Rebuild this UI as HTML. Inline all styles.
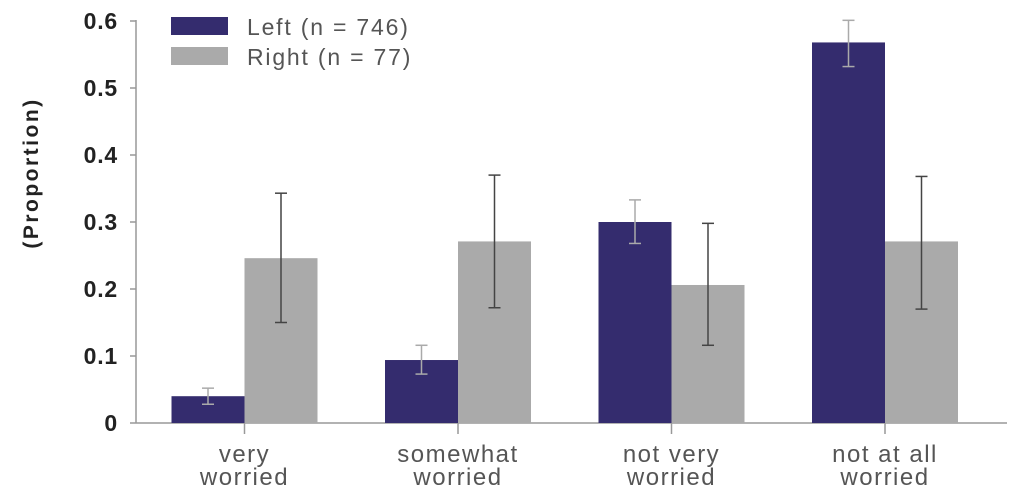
<!DOCTYPE html>
<html><head><meta charset="utf-8"><style>
html,body{margin:0;padding:0;background:#fff;}
svg{display:block;font-family:"Liberation Sans",sans-serif;}
</style></head><body>
<svg id="chart" width="1024" height="504"></svg>
<script>
const categories = [["very","worried"],["somewhat","worried"],["not very","worried"],["not at all","worried"]];
const leftValues = [0.040, 0.094, 0.300, 0.568];
const leftLow = [0.028, 0.073, 0.268, 0.532];
const leftHigh = [0.052, 0.116, 0.333, 0.601];
const rightValues = [0.246, 0.271, 0.206, 0.271];
const rightLow = [0.150, 0.172, 0.116, 0.170];
const rightHigh = [0.343, 0.370, 0.298, 0.368];
const yTicks = [0, 0.1, 0.2, 0.3, 0.4, 0.5, 0.6];
const yTickLabels = ["0","0.1","0.2","0.3","0.4","0.5","0.6"];
const legendLabels = ["Left (n = 746)","Right (n = 77)"];

const NS="http://www.w3.org/2000/svg";
const svg=document.getElementById('chart');
const x0=136, x1=1007, y0=423, yTop=21, vMax=0.6;
const y=v=>y0-(v/vMax)*(y0-yTop);
const groupW=213.5, firstCenter=244.5, barW=73;
const cx=i=>firstCenter+i*groupW;
function mk(tag,attrs,parent){const e=document.createElementNS(NS,tag);for(const k in attrs)e.setAttribute(k,attrs[k]);(parent||svg).appendChild(e);return e;}

let a=mk('line',{x1:x0,y1:y(0.6)-1,x2:x0,y2:y0,stroke:'#999','stroke-width':1.5});


a=mk('line',{x1:x0,y1:y0,x2:x1,y2:y0,stroke:'#999','stroke-width':1.5});



yTicks.forEach((t,i)=>{
  const l=mk('line',{x1:x0-6,y1:y(t),x2:x0,y2:y(t),stroke:'#999','stroke-width':1.5});
  
  
  const tx=mk('text',{x:x0-18,y:y(t)+8,'text-anchor':'end','font-size':23,'font-weight':'bold','letter-spacing':0.8,fill:'#222'});
  tx.textContent=yTickLabels[i];
  
  
});
const ty=173;
const yt=mk('text',{x:38,y:ty,'text-anchor':'middle','font-size':21,'font-weight':'bold','letter-spacing':2.5,fill:'#222',transform:'rotate(-90 38 '+ty+')'});
yt.textContent='(Proportion)';



categories.forEach((c,i)=>{
  const bl=mk('rect',{x:cx(i)-barW,y:y(leftValues[i]),width:barW,height:y0-y(leftValues[i]),fill:'#342c6e'});
  
  
  const br=mk('rect',{x:cx(i),y:y(rightValues[i]),width:barW,height:y0-y(rightValues[i]),fill:'#aaaaaa'});
  
  
  [[cx(i)-barW/2,leftLow[i],leftHigh[i],'#aaa'],[cx(i)+barW/2,rightLow[i],rightHigh[i],'#444']].forEach(([ex,lo,hi,col])=>{
    const g=mk('g',{stroke:col,'stroke-width':1.5});
    
    
    mk('line',{x1:ex,y1:y(lo),x2:ex,y2:y(hi)},g);
    mk('line',{x1:ex-6,y1:y(lo),x2:ex+6,y2:y(lo)},g);
    mk('line',{x1:ex-6,y1:y(hi),x2:ex+6,y2:y(hi)},g);
  });
  const tk=mk('line',{x1:cx(i),y1:y0,x2:cx(i),y2:y0+11,stroke:'#999','stroke-width':1.5});
  
  
  c.forEach((s,j)=>{
    const t=mk('text',{x:cx(i),y:462+j*23,'text-anchor':'middle','font-size':24,'letter-spacing':1.5,fill:'#555'});
    t.textContent=s;
    
    
  });
});

const legCols=['#342c6e','#aaaaaa'];
legendLabels.forEach((s,i)=>{
  const r=mk('rect',{x:171,y:17+i*30,width:57,height:18,fill:legCols[i]});
  
  
  const t=mk('text',{x:247,y:35+i*30,'font-size':23,'letter-spacing':1.8,fill:'#555'});
  t.textContent=s;
  
  
});
</script>
</body></html>
